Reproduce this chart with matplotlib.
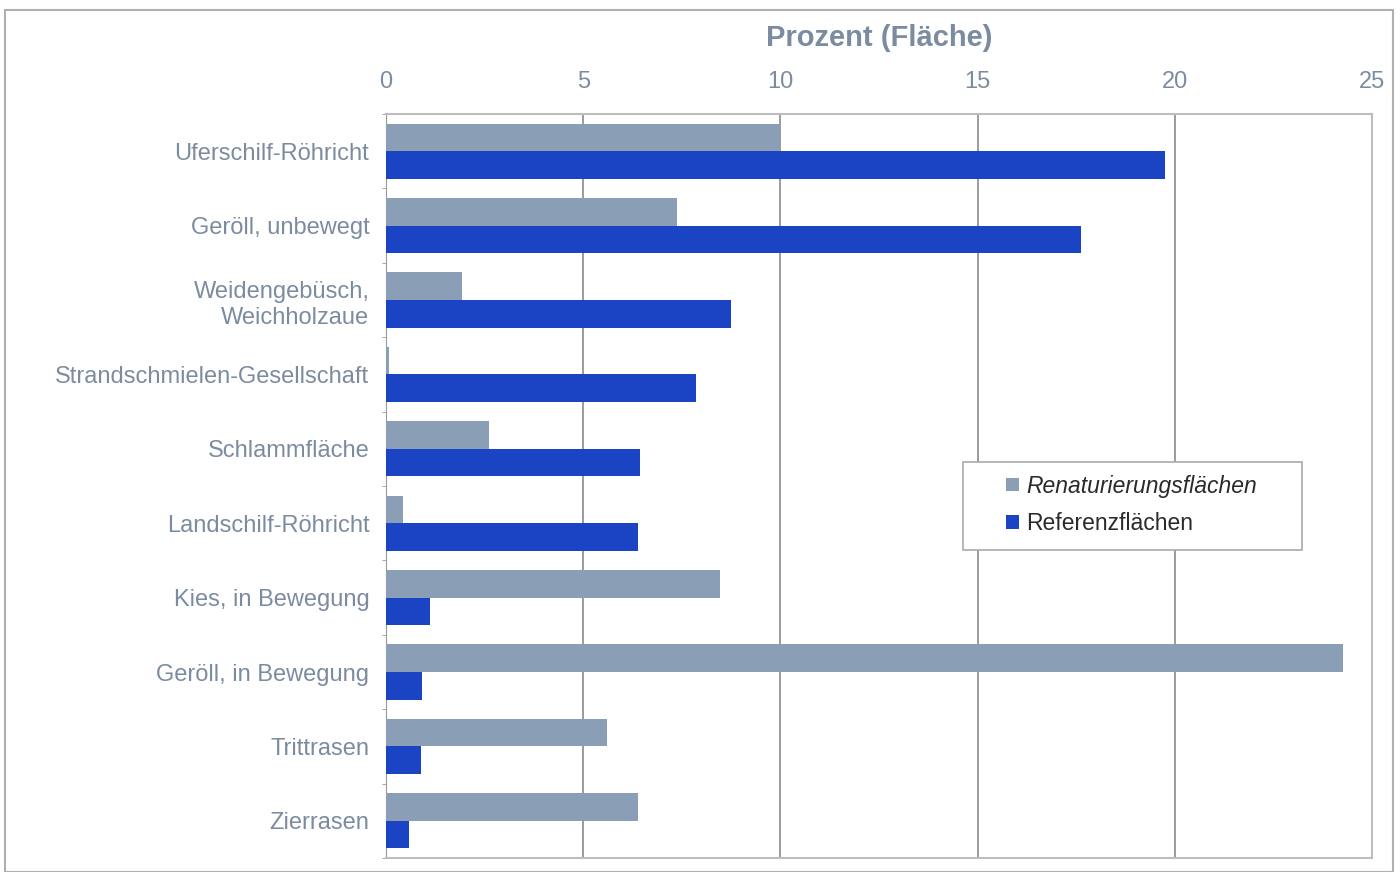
import matplotlib.pyplot as plt
import numpy as np

kategorien = ["Uferschilf-Röhricht", "Geröll, unbewegt", "Weidengebüsch,\nWeichholzaue",
              "Strandschmielen-Gesellschaft", "Schlammfläche", "Landschilf-Röhricht",
              "Kies, in Bewegung", "Geröll, in Bewegung", "Trittrasen", "Zierrasen"]
renaturierung = [10.0, 7.38, 1.93, 0.08, 2.61, 0.43, 8.47, 24.26, 5.60, 6.39]
referenz = [19.75, 17.62, 8.75, 7.86, 6.44, 6.39, 1.12, 0.91, 0.89, 0.58]

grau = "#8a9fb6"
blau = "#1a44c4"
textfarbe = "#7c8ca0"

plt.rcParams['font.family'] = ['Liberation Sans', 'DejaVu Sans']

fig = plt.figure(figsize=(14, 8.72), dpi=100)
ax = fig.add_axes([386 / 1400, 1 - 858 / 872, 986 / 1400, 744 / 872])

y = np.arange(len(kategorien))
h = 0.37
ax.barh(y - h / 2, renaturierung, height=h, color=grau, label="Renaturierungsflächen", zorder=3)
ax.barh(y + h / 2, referenz, height=h, color=blau, label="Referenzflächen", zorder=3)

ax.set_xlim(0, 25)
ax.set_ylim(len(kategorien) - 0.5, -0.5)
ax.set_xticks(range(0, 26, 5))
ax.xaxis.tick_top()
ax.xaxis.set_label_position("top")
ax.set_xlabel("Prozent (Fläche)", fontsize=21, fontweight="bold", color=textfarbe, labelpad=18)
ax.tick_params(axis="x", length=0, labelsize=17, labelcolor=textfarbe, pad=15)
ax.set_yticks(y)
ax.set_yticklabels(kategorien, fontsize=17, color=textfarbe, linespacing=1.25)
ax.set_yticks(np.arange(len(kategorien) + 1) - 0.5, minor=True)
ax.tick_params(axis="y", which="major", length=0, pad=12)
ax.tick_params(axis="y", which="minor", length=3, color="#999999", direction="out")
ax.grid(axis="x", color="#8a8a8a", linewidth=1.2, zorder=0)

for s in ["top", "bottom", "right"]:
    ax.spines[s].set_color("#bdbdbd")
    ax.spines[s].set_linewidth(1.5)
ax.spines["left"].set_color("#999999")

# Legendenrahmen separat, damit der Innenabstand links/rechts breiter ist
ax.add_patch(plt.Rectangle((577 / 986, (858 - 550) / 744), 339 / 986, 88 / 744,
                           transform=ax.transAxes, facecolor="white",
                           edgecolor="#aaaaaa", linewidth=1.2, zorder=5))
leg = ax.legend(loc="center left", bbox_to_anchor=(620 / 986, (858 - 505) / 744),
                fontsize=16.5, frameon=False,
                handlelength=0.55, handleheight=0.55, handletextpad=0.35,
                borderpad=0, labelspacing=0.65, borderaxespad=0)
leg.set_zorder(6)
for t in leg.get_texts():
    t.set_color("#2a2a2a")
leg.get_texts()[0].set_fontstyle("italic")

# Rahmen um die ganze Grafik
fig.patches.append(plt.Rectangle((5 / 1400, 0.0), 1388 / 1400, 1 - 10 / 872,
                                 transform=fig.transFigure, fill=False,
                                 edgecolor="#b0b0b0", linewidth=1.5))

fig.savefig("out.png", dpi=100)
